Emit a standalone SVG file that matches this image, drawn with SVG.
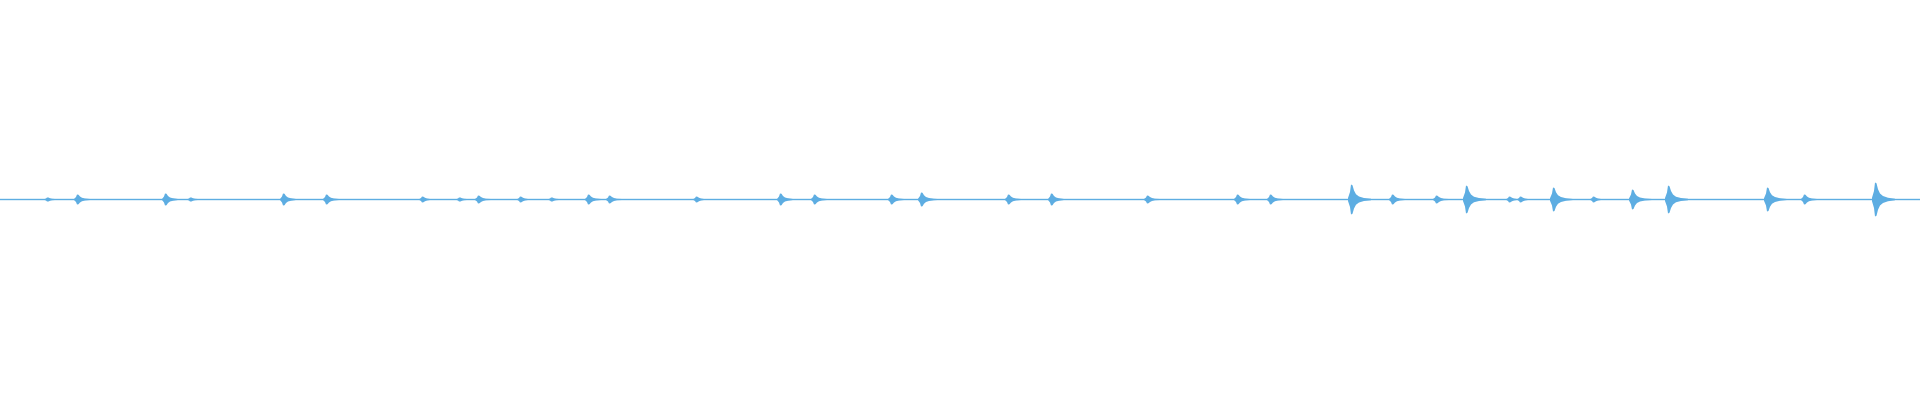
<svg xmlns="http://www.w3.org/2000/svg" xmlns:xlink="http://www.w3.org/1999/xlink" width="1920" height="400" viewBox="0 0 1920 400">
<style>.w{fill:#5DADE2}</style>
<defs><path id="b" class="w" d="M-3,-0.1 L-1,-0.5 L0,-1 L1.5,-0.95 L3,-0.6 L5,-0.35 L8,-0.2 L13,-0.1 L20,-0.05 L20,0.05 L13,0.1 L8,0.2 L5,0.35 L3,0.6 L1.5,0.95 L0,1 L-1,0.5 L-3,0.1 Z"/></defs>
<rect width="1920" height="400" fill="#fff"/>
<g id="waveform">
<rect class="w" x="0" y="198.8" width="1920" height="1.4"/>
<g transform="translate(0,199.5)">
<use xlink:href="#b" transform="translate(47,0) scale(1,2)"/>
<use xlink:href="#b" transform="translate(77,0) scale(1,5)"/>
<use xlink:href="#b" transform="translate(165,0) scale(1,6)"/>
<use xlink:href="#b" transform="translate(190,0) scale(1,2)"/>
<use xlink:href="#b" transform="translate(283,0) scale(1,6)"/>
<use xlink:href="#b" transform="translate(326,0) scale(1,5)"/>
<use xlink:href="#b" transform="translate(422,0) scale(1,3)"/>
<use xlink:href="#b" transform="translate(459,0) scale(1,2)"/>
<use xlink:href="#b" transform="translate(478,0) scale(1,4)"/>
<use xlink:href="#b" transform="translate(520,0) scale(1,3)"/>
<use xlink:href="#b" transform="translate(551,0) scale(1,2)"/>
<use xlink:href="#b" transform="translate(588,0) scale(1,5)"/>
<use xlink:href="#b" transform="translate(609,0) scale(1,4)"/>
<use xlink:href="#b" transform="translate(696,0) scale(1,3)"/>
<use xlink:href="#b" transform="translate(780,0) scale(1,6)"/>
<use xlink:href="#b" transform="translate(814,0) scale(1,5)"/>
<use xlink:href="#b" transform="translate(891,0) scale(1,5)"/>
<use xlink:href="#b" transform="translate(921,0) scale(1,7)"/>
<use xlink:href="#b" transform="translate(1008,0) scale(1,5)"/>
<use xlink:href="#b" transform="translate(1051,0) scale(1,6)"/>
<use xlink:href="#b" transform="translate(1147,0) scale(1,4)"/>
<use xlink:href="#b" transform="translate(1237,0) scale(1,5)"/>
<use xlink:href="#b" transform="translate(1270,0) scale(1,5)"/>
<use xlink:href="#b" transform="translate(1351,0) scale(1,15)"/>
<use xlink:href="#b" transform="translate(1392,0) scale(1,5)"/>
<use xlink:href="#b" transform="translate(1436,0) scale(1,4)"/>
<use xlink:href="#b" transform="translate(1466,0) scale(1,14)"/>
<use xlink:href="#b" transform="translate(1509,0) scale(1,3)"/>
<use xlink:href="#b" transform="translate(1520,0) scale(1,3)"/>
<use xlink:href="#b" transform="translate(1553,0) scale(1,12)"/>
<use xlink:href="#b" transform="translate(1593,0) scale(1,3)"/>
<use xlink:href="#b" transform="translate(1632,0) scale(1,10)"/>
<use xlink:href="#b" transform="translate(1668,0) scale(1,14)"/>
<use xlink:href="#b" transform="translate(1767,0) scale(1,12)"/>
<use xlink:href="#b" transform="translate(1804,0) scale(1,5)"/>
<use xlink:href="#b" transform="translate(1875,0) scale(1,17)"/>
</g>
</g>
</svg>
